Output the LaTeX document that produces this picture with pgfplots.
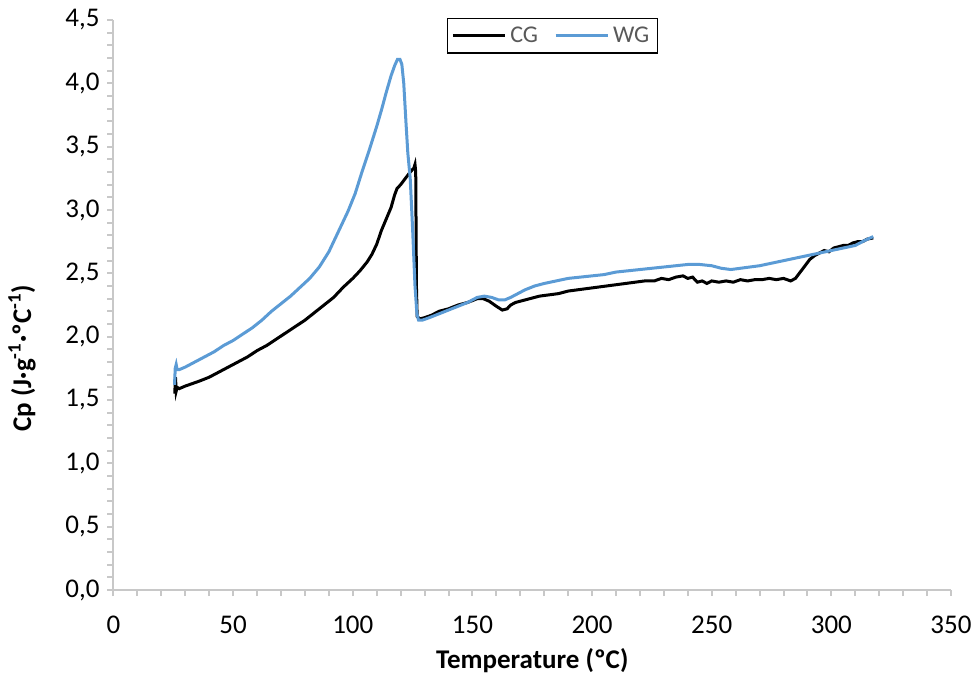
\documentclass[border=0pt]{standalone}
\usepackage{fontspec}
\setmainfont{Carlito}
\usepackage{pgfplots}
\pgfplotsset{compat=1.18}
\definecolor{wgblue}{RGB}{91,155,213}
\definecolor{axisgray}{RGB}{200,200,200}
\definecolor{legtext}{RGB}{89,89,89}
\begin{document}
\begin{tikzpicture}
\begin{axis}[
  scale only axis,
  width=418.75pt, height=285pt,
  xmin=0, xmax=350, ymin=0, ymax=4.5,
  axis x line*=bottom, axis y line*=left,
  axis line style={draw=axisgray, line width=1pt, -},
  every outer x axis line/.append style={-},
  every outer y axis line/.append style={-},
  xtick={0,50,100,150,200,250,300,350},
  ytick={0,0.5,1,1.5,2,2.5,3,3.5,4,4.5},
  minor x tick num=4, minor y tick num=4,
  tick align=outside,
  major tick length=3pt, minor tick length=3pt,
  tick style={draw=axisgray, line width=1pt},
  /pgf/number format/assume math mode=true,
  yticklabel style={/pgf/number format/use comma, /pgf/number format/fixed, /pgf/number format/fixed zerofill, /pgf/number format/precision=1, xshift=-0.5pt},
  xticklabel style={/pgf/number format/fixed, /pgf/number format/precision=0, /pgf/number format/1000 sep={}, yshift=-6.5pt},
  every tick label/.append style={font=\fontsize{13.5}{16}\selectfont, text=black},
  every axis x label/.style={at={(axis description cs:0.5,0)}, anchor=center, yshift=-35.5pt},
  every axis y label/.style={at={(axis description cs:-0.1093,0.407)}, anchor=center, rotate=90},
  xlabel={\fontsize{13.5}{16}\selectfont\bfseries Temperature (ºC)},
  ylabel={\fontsize{13.5}{16}\selectfont\bfseries Cp (J·g\textsuperscript{-1}·ºC\textsuperscript{-1})},
  legend columns=2,
  legend style={at={(axis description cs:0.524,1.004)}, anchor=north, draw=black, line width=0.8pt,
    font=\fontsize{12}{14}\selectfont, text=legtext, inner sep=2pt,
    /tikz/every even column/.append style={column sep=6pt}},
  legend image code/.code={\draw[#1] (0pt,0pt) -- (26pt,0pt);},
]
\addplot[black, line width=1.5pt] coordinates {
(25.6,1.55) (25.9,1.68) (26.2,1.57) (26.6,1.60) (27.5,1.59) (30,1.61) (33,1.63) (36,1.65)
(40,1.68) (44,1.72) (48,1.76) (52,1.80) (56,1.84) (60,1.89) (64,1.93) (68,1.98) (72,2.03)
(76,2.08) (80,2.13) (84,2.19) (88,2.25) (92,2.31) (96,2.39) (100,2.46) (103,2.52) (106,2.59)
(108,2.65) (110,2.73) (112,2.84) (114,2.93) (116,3.02) (117.5,3.12) (118.5,3.17) (120,3.20)
(122,3.25) (124,3.30) (125.5,3.33) (126,3.36) (126.3,3.30) (126.6,2.40) (126.9,2.16) (128,2.14)
(130,2.15) (133,2.17) (136,2.20) (140,2.22) (144,2.25) (148,2.27) (152,2.30) (154.5,2.30)
(157,2.28) (160,2.24) (162.5,2.21) (164.5,2.22) (166,2.25) (168,2.27) (170,2.28) (174,2.30)
(178,2.32) (182,2.33) (186,2.34) (190,2.36) (194,2.37) (198,2.38) (202,2.39) (206,2.40)
(210,2.41) (214,2.42) (218,2.43) (222,2.44) (226,2.44) (229,2.46) (232,2.45) (235,2.47)
(238,2.48) (240,2.46) (242,2.47) (244,2.43) (246,2.44) (248,2.42) (250,2.44) (253,2.43)
(256,2.44) (259,2.43) (262,2.45) (265,2.44) (268,2.45) (271,2.45) (274,2.46) (277,2.45)
(280,2.46) (283,2.44) (285,2.46) (287,2.51) (289,2.56) (291,2.61) (293,2.64) (295,2.66)
(297,2.68) (299,2.67) (301,2.70) (303,2.71) (305,2.72) (307,2.72) (309,2.74) (311,2.75)
(313,2.75) (315,2.77) (317.5,2.78)
};
\addlegendentry{CG}
\addplot[wgblue, line width=1.5pt] coordinates {
(25.5,1.62) (25.8,1.75) (26.2,1.78) (26.6,1.74) (27.5,1.74) (30,1.76) (34,1.80) (38,1.84)
(42,1.88) (46,1.93) (50,1.97) (54,2.02) (58,2.07) (62,2.13) (66,2.20) (70,2.26) (74,2.32)
(78,2.39) (82,2.46) (86,2.55) (90,2.67) (94,2.83) (98,2.99) (101,3.13) (104,3.31) (107,3.48)
(110,3.66) (112,3.79) (114,3.93) (116,4.06) (117.5,4.14) (118.7,4.19) (119.7,4.19) (120.5,4.15)
(121.3,4.00) (122.2,3.70) (123,3.45) (124,3.25) (125,2.85) (126,2.40) (126.8,2.18) (127.5,2.13)
(129,2.13) (132,2.15) (136,2.18) (140,2.21) (144,2.24) (148,2.27) (152,2.31) (155,2.32)
(158,2.31) (161,2.29) (163.5,2.29) (166,2.31) (169,2.34) (172,2.37) (176,2.40) (180,2.42)
(185,2.44) (190,2.46) (195,2.47) (200,2.48) (205,2.49) (210,2.51) (215,2.52) (220,2.53)
(225,2.54) (230,2.55) (235,2.56) (240,2.57) (245,2.57) (250,2.56) (254,2.54) (258,2.53)
(262,2.54) (266,2.55) (270,2.56) (275,2.58) (280,2.60) (285,2.62) (290,2.64) (295,2.66)
(300,2.68) (305,2.70) (310,2.72) (314,2.76) (317.5,2.79)
};
\addlegendentry{WG}
\end{axis}
\pgfresetboundingbox
\path (-56.75pt,-45pt) rectangle (430.75pt,295pt);
\end{tikzpicture}
\end{document}
